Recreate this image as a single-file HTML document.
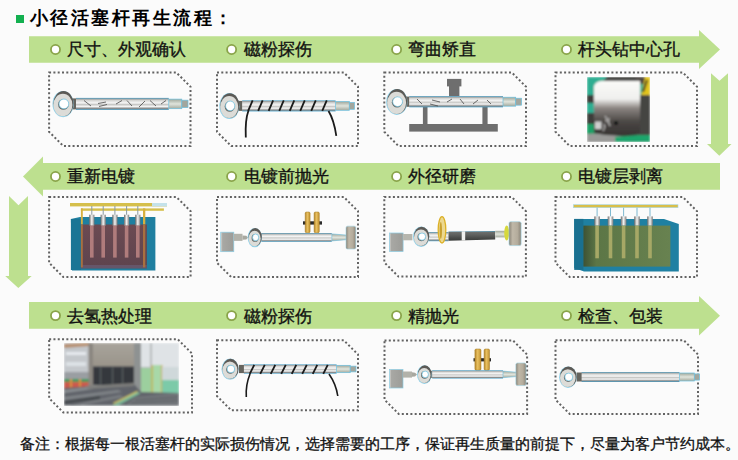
<!DOCTYPE html>
<html><head><meta charset="utf-8">
<style>
*{margin:0;padding:0;box-sizing:border-box}
html,body{width:738px;height:460px;overflow:hidden;background:#fbfbfb;font-family:"Liberation Sans",sans-serif;}
svg{position:absolute;left:0;top:0}
.t{position:absolute;left:29.5px;top:7.2px;font-size:18px;font-weight:bold;letter-spacing:2.55px;color:#000;line-height:22px;white-space:nowrap}
.lb{position:absolute;font-size:17px;line-height:22px;color:#111;white-space:nowrap;-webkit-text-stroke:0.35px #111}
.ft{position:absolute;left:20px;top:434.3px;font-size:15px;line-height:20px;color:#111;white-space:nowrap;-webkit-text-stroke:0.3px #111}
</style></head><body>
<svg width="738" height="460" viewBox="0 0 738 460">
<defs>
<filter id="soft" x="0" y="0" width="1" height="1"><feGaussianBlur stdDeviation="0.8"/></filter>
<linearGradient id="rodg" x1="0" y1="0" x2="0" y2="1">
<stop offset="0" stop-color="#3f9cc6"/><stop offset="0.1" stop-color="#a0a4a4"/>
<stop offset="0.22" stop-color="#d8d8d6"/><stop offset="0.42" stop-color="#f6f6f6"/>
<stop offset="0.55" stop-color="#c8c8c6"/><stop offset="0.72" stop-color="#f4f4f4"/>
<stop offset="0.88" stop-color="#8a8c8c"/><stop offset="1" stop-color="#3f9cc6"/>
</linearGradient>
<linearGradient id="darkg" x1="0" y1="0" x2="0" y2="1">
<stop offset="0" stop-color="#4a9cc0"/><stop offset="0.12" stop-color="#6c6e6c"/><stop offset="0.4" stop-color="#5e605e"/><stop offset="0.7" stop-color="#4a4c4a"/><stop offset="1" stop-color="#3a3c3a"/>
</linearGradient>
<linearGradient id="endg" x1="0" y1="0" x2="0" y2="1">
<stop offset="0" stop-color="#9ea69a"/><stop offset="0.5" stop-color="#e0e4dc"/><stop offset="1" stop-color="#a4aa9e"/>
</linearGradient>
<linearGradient id="capg" x1="0" y1="0" x2="1" y2="0">
<stop offset="0" stop-color="#6a6a6a"/><stop offset="0.5" stop-color="#f4f4f4"/><stop offset="1" stop-color="#7a7a7a"/>
</linearGradient>
<linearGradient id="cylg" x1="0" y1="0" x2="0" y2="1">
<stop offset="0" stop-color="#fafaf8"/><stop offset="0.33" stop-color="#f0f0ee"/><stop offset="0.5" stop-color="#8a8480"/><stop offset="0.75" stop-color="#4a4644"/><stop offset="1" stop-color="#363432"/>
</linearGradient>
<linearGradient id="chlg" x1="0" y1="0" x2="1" y2="0">
<stop offset="0" stop-color="#d8d8d4"/><stop offset="0.15" stop-color="#a8a8a4"/><stop offset="1" stop-color="#9c9c98"/>
</linearGradient>
<linearGradient id="chrg" x1="0" y1="0" x2="1" y2="0">
<stop offset="0" stop-color="#8a8478"/><stop offset="0.3" stop-color="#c0b8a8"/><stop offset="0.7" stop-color="#b4ac9c"/><stop offset="1" stop-color="#8a8478"/>
</linearGradient>
<linearGradient id="whg" x1="0" y1="0" x2="1" y2="0">
<stop offset="0" stop-color="#b8882c"/><stop offset="0.45" stop-color="#e8c060"/><stop offset="1" stop-color="#c09030"/>
</linearGradient>
<linearGradient id="tankb" x1="0" y1="0" x2="0" y2="1">
<stop offset="0" stop-color="#6c4a52"/><stop offset="1" stop-color="#5e444e"/>
</linearGradient>
<linearGradient id="tankg" x1="0" y1="0" x2="1" y2="0">
<stop offset="0" stop-color="#3e5234"/><stop offset="0.15" stop-color="#5c7646"/><stop offset="1" stop-color="#688250"/>
</linearGradient>
<linearGradient id="wallg" x1="0" y1="0" x2="0" y2="1">
<stop offset="0" stop-color="#a8a49c"/><stop offset="1" stop-color="#9a948a"/>
</linearGradient>
</defs>
<rect x="16" y="15" width="8" height="8" fill="#13b050"/>
<polygon points="29,36.2 699,36.2 699,30 720,49.5 699,69 699,62.7 29,62.7" fill="#bde08f"/>
<polygon points="720,163.1 43,163.1 43,156.6 23,176.5 43,196.6 43,189.8 720,189.8" fill="#bde08f"/>
<polygon points="29,302 699,302 699,296 720,315.8 699,335.5 699,328.7 29,328.7" fill="#bde08f"/>
<polygon points="711,73.2 719.5,80.7 728,73.2 728,144.1 731.5,144.1 719.3,155.7 707,144.1 711,144.1" fill="#bde08f"/>
<polygon points="9,196.1 18.5,205.2 28,196.1 28,276 31.7,276 18.3,288 5.2,276 9,276" fill="#bde08f"/>
<path d="M49.1,72.5 H176.3 L190.5,86.7 V146 H63.3 L49.1,131.8 Z" fill="none" stroke="#626262" stroke-width="2" stroke-dasharray="2 2.3"/>
<path d="M217,72.5 H343.8 L358,86.7 V146 H231.2 L217,131.8 Z" fill="none" stroke="#626262" stroke-width="2" stroke-dasharray="2 2.3"/>
<path d="M384.3,72.5 H511.8 L526,86.7 V146 H398.5 L384.3,131.8 Z" fill="none" stroke="#626262" stroke-width="2" stroke-dasharray="2 2.3"/>
<path d="M555.5,72.5 H682.8 L697,86.7 V146 H569.7 L555.5,131.8 Z" fill="none" stroke="#626262" stroke-width="2" stroke-dasharray="2 2.3"/>
<path d="M49.1,197 H176.4 L190.6,211.2 V277 H63.3 L49.1,262.8 Z" fill="none" stroke="#626262" stroke-width="2" stroke-dasharray="2 2.3"/>
<path d="M217,197 H343.8 L358,211.2 V277 H231.2 L217,262.8 Z" fill="none" stroke="#626262" stroke-width="2" stroke-dasharray="2 2.3"/>
<path d="M384.3,197 H511.7 L525.9,211.2 V276.6 H398.5 L384.3,262.40000000000003 Z" fill="none" stroke="#626262" stroke-width="2" stroke-dasharray="2 2.3"/>
<path d="M555.5,197 H682.8 L697,211.2 V277 H569.7 L555.5,262.8 Z" fill="none" stroke="#626262" stroke-width="2" stroke-dasharray="2 2.3"/>
<path d="M49.15,339.3 H177.8 L192,353.5 V412.5 H63.349999999999994 L49.15,398.3 Z" fill="none" stroke="#626262" stroke-width="2" stroke-dasharray="2 2.3"/>
<path d="M217,340.3 H343.8 L358,354.5 V410.3 H231.2 L217,396.1 Z" fill="none" stroke="#626262" stroke-width="2" stroke-dasharray="2 2.3"/>
<path d="M384.5,340.4 H512.9 L527.1,354.59999999999997 V413.9 H398.7 L384.5,399.7 Z" fill="none" stroke="#626262" stroke-width="2" stroke-dasharray="2 2.3"/>
<path d="M555.5,340.3 H683.8 L698,354.5 V413.9 H569.7 L555.5,399.7 Z" fill="none" stroke="#626262" stroke-width="2" stroke-dasharray="2 2.3"/>
<circle cx="55.5" cy="49.5" r="4.55" fill="#ffffff" stroke="#8aa44a" stroke-width="1.8"/>
<circle cx="231.6" cy="49.5" r="4.55" fill="#ffffff" stroke="#8aa44a" stroke-width="1.8"/>
<circle cx="396.6" cy="49.5" r="4.55" fill="#ffffff" stroke="#8aa44a" stroke-width="1.8"/>
<circle cx="566.5" cy="49.5" r="4.55" fill="#ffffff" stroke="#8aa44a" stroke-width="1.8"/>
<circle cx="55.5" cy="176.5" r="4.55" fill="#ffffff" stroke="#8aa44a" stroke-width="1.8"/>
<circle cx="231.6" cy="176.5" r="4.55" fill="#ffffff" stroke="#8aa44a" stroke-width="1.8"/>
<circle cx="396.6" cy="176.5" r="4.55" fill="#ffffff" stroke="#8aa44a" stroke-width="1.8"/>
<circle cx="566.5" cy="176.5" r="4.55" fill="#ffffff" stroke="#8aa44a" stroke-width="1.8"/>
<circle cx="55.5" cy="315.6" r="4.55" fill="#ffffff" stroke="#8aa44a" stroke-width="1.8"/>
<circle cx="231.6" cy="315.6" r="4.55" fill="#ffffff" stroke="#8aa44a" stroke-width="1.8"/>
<circle cx="396.6" cy="315.6" r="4.55" fill="#ffffff" stroke="#8aa44a" stroke-width="1.8"/>
<circle cx="566.5" cy="315.6" r="4.55" fill="#ffffff" stroke="#8aa44a" stroke-width="1.8"/>
<rect x="71" y="98.4" width="5.5" height="11" fill="#65645e"/>
<rect x="76" y="97.9" width="92.80000000000001" height="12" fill="url(#rodg)"/>
<rect x="168.8" y="99.10000000000001" width="13" height="9.600000000000001" fill="url(#endg)" stroke="#6cc0e0" stroke-width="0.7"/>
<rect x="181.8" y="100.18" width="6.2" height="7.4399999999999995" fill="#a2a69e" stroke="#6cc0e0" stroke-width="0.7"/>
<ellipse cx="63.099999999999994" cy="104.10000000000001" rx="10.6" ry="13.1" fill="#8fd0e8"/>
<ellipse cx="63.5" cy="103.60000000000001" rx="10" ry="12.5" fill="#5c5a56"/>
<ellipse cx="62.9" cy="105.0" rx="9.5" ry="11.2" fill="#dcdcd8"/>
<ellipse cx="63.4" cy="104.4" rx="5.300000000000001" ry="5.375" fill="#6a6864"/>
<ellipse cx="63.9" cy="103.9" rx="4.9" ry="4.875" fill="#ffffff" stroke="#6cc4e4" stroke-width="0.7"/>
<line x1="84" y1="100.5" x2="91" y2="106" stroke="#4a4a4a" stroke-width="0.8"/>
<line x1="98" y1="103.5" x2="106" y2="102" stroke="#4a4a4a" stroke-width="0.8"/>
<line x1="99" y1="106.5" x2="107" y2="104.5" stroke="#4a4a4a" stroke-width="0.8"/>
<line x1="116" y1="104" x2="122" y2="100.5" stroke="#4a4a4a" stroke-width="0.8"/>
<line x1="127" y1="100.5" x2="132" y2="106" stroke="#4a4a4a" stroke-width="0.8"/>
<line x1="139" y1="107" x2="145" y2="101" stroke="#4a4a4a" stroke-width="0.8"/>
<line x1="150" y1="100.5" x2="156" y2="106" stroke="#4a4a4a" stroke-width="0.8"/>
<line x1="161" y1="104" x2="166" y2="100.5" stroke="#4a4a4a" stroke-width="0.8"/>
<rect x="237.2" y="100.9" width="5.5" height="10.0" fill="#65645e"/>
<rect x="242.2" y="100.4" width="93.40000000000003" height="11.0" fill="url(#rodg)"/>
<rect x="335.6" y="101.5" width="13.7" height="8.8" fill="url(#endg)" stroke="#6cc0e0" stroke-width="0.7"/>
<rect x="349.3" y="102.49000000000001" width="5.2" height="6.82" fill="#a2a69e" stroke="#6cc0e0" stroke-width="0.7"/>
<ellipse cx="229.4" cy="106.10000000000001" rx="10.1" ry="13.0" fill="#8fd0e8"/>
<ellipse cx="229.79999999999998" cy="105.60000000000001" rx="9.5" ry="12.4" fill="#5c5a56"/>
<ellipse cx="229.2" cy="107.0" rx="9.0" ry="11.1" fill="#dcdcd8"/>
<ellipse cx="229.7" cy="106.4" rx="5.035" ry="5.332" fill="#6a6864"/>
<ellipse cx="230.2" cy="105.9" rx="4.635" ry="4.832" fill="#ffffff" stroke="#6cc4e4" stroke-width="0.7"/>
<line x1="248.15" y1="110.8" x2="252.65" y2="100.4" stroke="#1a1a1a" stroke-width="1.8"/>
<line x1="258.15" y1="110.8" x2="262.65" y2="100.4" stroke="#1a1a1a" stroke-width="1.8"/>
<line x1="268.65" y1="110.8" x2="273.15" y2="100.4" stroke="#1a1a1a" stroke-width="1.8"/>
<line x1="279.25" y1="110.8" x2="283.75" y2="100.4" stroke="#1a1a1a" stroke-width="1.8"/>
<line x1="289.75" y1="110.8" x2="294.25" y2="100.4" stroke="#1a1a1a" stroke-width="1.8"/>
<line x1="300.25" y1="110.8" x2="304.75" y2="100.4" stroke="#1a1a1a" stroke-width="1.8"/>
<line x1="311.25" y1="110.8" x2="315.75" y2="100.4" stroke="#1a1a1a" stroke-width="1.8"/>
<line x1="322.25" y1="110.8" x2="326.75" y2="100.4" stroke="#1a1a1a" stroke-width="1.8"/>
<path d="M248.5,110.5 Q245,120 245.8,137.5" fill="none" stroke="#1a1a1a" stroke-width="1.8"/>
<path d="M328.5,111 Q334,120 336.3,135.8" fill="none" stroke="#1a1a1a" stroke-width="1.8"/>
<rect x="447" y="78.9" width="14.4" height="7.5" fill="#6e6e6e"/>
<rect x="449" y="86" width="10.4" height="10" fill="#6e6e6e"/>
<rect x="422.9" y="107" width="4.6" height="18" fill="#6e6e6e"/>
<rect x="482.4" y="107" width="5.2" height="18" fill="#6e6e6e"/>
<rect x="409.2" y="124" width="88.6" height="7.6" fill="#6e6e6e"/>
<rect x="404.2" y="96.60000000000001" width="5.5" height="10.2" fill="#65645e"/>
<rect x="409.2" y="96.10000000000001" width="93.80000000000001" height="11.2" fill="url(#rodg)"/>
<rect x="503" y="97.22" width="12.7" height="8.959999999999999" fill="url(#endg)" stroke="#6cc0e0" stroke-width="0.7"/>
<rect x="515.7" y="98.22800000000001" width="5.9" height="6.944" fill="#a2a69e" stroke="#6cc0e0" stroke-width="0.7"/>
<ellipse cx="396.8" cy="101.9" rx="10.6" ry="13.0" fill="#8fd0e8"/>
<ellipse cx="397.2" cy="101.4" rx="10" ry="12.4" fill="#5c5a56"/>
<ellipse cx="396.6" cy="102.8" rx="9.5" ry="11.1" fill="#dcdcd8"/>
<ellipse cx="397.1" cy="102.2" rx="5.300000000000001" ry="5.332" fill="#6a6864"/>
<ellipse cx="397.6" cy="101.7" rx="4.9" ry="4.832" fill="#ffffff" stroke="#6cc4e4" stroke-width="0.7"/>
<line x1="417" y1="99" x2="422" y2="104" stroke="#4a4a4a" stroke-width="0.8"/>
<line x1="432" y1="100" x2="440" y2="102" stroke="#4a4a4a" stroke-width="0.8"/>
<line x1="430" y1="104" x2="438" y2="106" stroke="#4a4a4a" stroke-width="0.8"/>
<line x1="447" y1="102" x2="452" y2="99" stroke="#4a4a4a" stroke-width="0.8"/>
<line x1="460" y1="99" x2="464" y2="104" stroke="#4a4a4a" stroke-width="0.8"/>
<line x1="473" y1="104" x2="478" y2="100" stroke="#4a4a4a" stroke-width="0.8"/>
<line x1="487" y1="100" x2="491" y2="104" stroke="#4a4a4a" stroke-width="0.8"/>
<g filter="url(#soft)">
<rect x="587" y="77" width="63" height="64.8" fill="#3e3c3a"/>
<polygon points="587,77 607,77 600,85 594,95 587,95" fill="#2fae92"/>
<rect x="587" y="103" width="7" height="10" fill="#2fae92"/>
<polygon points="587,124 597,124 604,134 587,134" fill="#1aa068"/>
<polygon points="587,134 604,133 625,137 625,141.8 587,141.8" fill="#9a9a98"/>
<polygon points="615,137 650,134 650,141.8 615,141.8" fill="#1aa56c"/>
<rect x="636" y="77" width="8" height="7" fill="#4c4440"/>
<rect x="638" y="84" width="12" height="11" fill="#30b094"/>
<polygon points="645,77 650,77 650,95 641,95" fill="#e2c41e"/>
<polygon points="646,80 648,80 644,92 642,92" fill="#222"/>
<rect x="637" y="95" width="13" height="40" fill="#454443"/>
<path d="M594,86 Q596,81 602,81 H640 V133 Q617,138 594,133 Z" fill="url(#cylg)"/>
<rect x="595" y="121.5" width="6.5" height="7.5" fill="#cfcfcf"/>
<path d="M605,116 q3,2 1,6 M604,124 q2,3 -1,7 M609,118 q-2,4 1,8" stroke="#e8e8e8" stroke-width="0.9" fill="none"/>
<circle cx="616" cy="123" r="2.1" fill="#080808"/>
</g>
<g>
<polygon points="70.9,219 80,217 155.4,217 155.4,270.4 72,270.4" fill="#1f7fa0"/>
<rect x="70.9" y="219" width="10" height="51" fill="#1a7595"/>
<rect x="80.9" y="224.5" width="66" height="43.8" fill="url(#tankb)"/><rect x="80.9" y="265" width="66" height="3.3" fill="#66566a"/>
<rect x="70" y="203" width="97" height="3.4" fill="#d5bf4c"/>
<rect x="152" y="203" width="15" height="3.4" fill="#c4e2ea"/>
<rect x="80.9" y="208.4" width="83" height="2.4" fill="#d5bf4c"/>
<rect x="80.9" y="208.4" width="1.9" height="16" fill="#d6b040"/>
<rect x="143" y="208.4" width="2.3" height="16" fill="#d6b040"/><rect x="80.9" y="224.4" width="1.9" height="43" fill="#a87040"/>
<rect x="143" y="224.4" width="2.3" height="43" fill="#a87040"/>
</g>
<rect x="91.3" y="206" width="1" height="9" fill="#8a9aa0"/><rect x="89.2" y="214.7" width="5.2" height="11" fill="url(#capg)"/><rect x="90.0" y="225.6" width="3.6" height="32" fill="#b07c7c"/>
<rect x="102.7" y="206" width="1" height="9" fill="#8a9aa0"/><rect x="100.60000000000001" y="214.7" width="5.2" height="11" fill="url(#capg)"/><rect x="101.4" y="225.6" width="3.6" height="32" fill="#b07c7c"/>
<rect x="114.4" y="206" width="1" height="9" fill="#8a9aa0"/><rect x="112.30000000000001" y="214.7" width="5.2" height="11" fill="url(#capg)"/><rect x="113.10000000000001" y="225.6" width="3.6" height="32" fill="#b07c7c"/>
<rect x="126.1" y="206" width="1" height="9" fill="#8a9aa0"/><rect x="124.0" y="214.7" width="5.2" height="11" fill="url(#capg)"/><rect x="124.8" y="225.6" width="3.6" height="32" fill="#b07c7c"/>
<rect x="137.3" y="206" width="1" height="9" fill="#8a9aa0"/><rect x="135.20000000000002" y="214.7" width="5.2" height="11" fill="url(#capg)"/><rect x="136.0" y="225.6" width="3.6" height="32" fill="#b07c7c"/>
<g>
<polygon points="574.2,218.9 592,218.9 664,219 678.8,224 678.8,271.6 584,271.6 574.2,268" fill="#1f80a2"/>
<rect x="574.2" y="218.9" width="9.2" height="51" fill="#1a7090"/>
<rect x="583.4" y="225.6" width="87" height="41" fill="url(#tankg)"/>
<rect x="573.4" y="204.7" width="104.6" height="3" fill="#d8bf4a" stroke="#a8d8e8" stroke-width="0.6"/>
</g>
<rect x="596.6" y="207.7" width="1" height="9" fill="#7fb8d0"/><rect x="594.3000000000001" y="216.4" width="5.6" height="9.2" fill="url(#capg)"/><rect x="595.3000000000001" y="225.6" width="3.6" height="32.7" fill="#a6a866"/>
<rect x="610.0" y="207.7" width="1" height="9" fill="#7fb8d0"/><rect x="607.7" y="216.4" width="5.6" height="9.2" fill="url(#capg)"/><rect x="608.7" y="225.6" width="3.6" height="32.7" fill="#a6a866"/>
<rect x="623.1" y="207.7" width="1" height="9" fill="#7fb8d0"/><rect x="620.8000000000001" y="216.4" width="5.6" height="9.2" fill="url(#capg)"/><rect x="621.8000000000001" y="225.6" width="3.6" height="32.7" fill="#a6a866"/>
<rect x="636.5" y="207.7" width="1" height="9" fill="#7fb8d0"/><rect x="634.2" y="216.4" width="5.6" height="9.2" fill="url(#capg)"/><rect x="635.2" y="225.6" width="3.6" height="32.7" fill="#a6a866"/>
<rect x="649.5" y="207.7" width="1" height="9" fill="#7fb8d0"/><rect x="647.2" y="216.4" width="5.6" height="9.2" fill="url(#capg)"/><rect x="648.2" y="225.6" width="3.6" height="32.7" fill="#a6a866"/>
<rect x="220.7" y="232.2" width="13.1" height="19.5" fill="url(#chlg)" stroke="#8ccde4" stroke-width="0.7"/>
<rect x="233.8" y="233.8" width="8.7" height="7.1" fill="#b2b2aa"/><polygon points="242.5,235.4 246.3,235.8 248,237.6 246.3,239.6 242.5,239.8" fill="#a8a8a0"/>
<rect x="303" y="221.3" width="19" height="3.3" fill="#2a2a2a"/>
<rect x="305.2" y="212" width="4.9" height="20.7" rx="1.3" fill="url(#whg)" stroke="#a07820" stroke-width="0.5"/><rect x="314.1" y="212" width="5.2" height="20.7" rx="1.3" fill="url(#whg)" stroke="#a07820" stroke-width="0.5"/>
<rect x="256.5" y="233.5" width="5.5" height="7.800000000000001" fill="#65645e"/>
<rect x="261.5" y="233.0" width="70.30000000000001" height="8.8" fill="url(#rodg)"/>
<polygon points="331.8,233.88 346.3,235.112 346.3,239.68800000000002 331.8,240.92000000000002" fill="url(#endg)" stroke="#6cc0e0" stroke-width="0.6"/>
<ellipse cx="254.8" cy="237.6" rx="7.199999999999999" ry="9.6" fill="#8fd0e8"/>
<ellipse cx="255.2" cy="237.1" rx="6.6" ry="9" fill="#5c5a56"/>
<ellipse cx="254.6" cy="238.5" rx="6.1" ry="7.7" fill="#dcdcd8"/>
<ellipse cx="255.1" cy="237.9" rx="3.4979999999999998" ry="3.87" fill="#6a6864"/>
<ellipse cx="255.6" cy="237.4" rx="3.098" ry="3.37" fill="#ffffff" stroke="#6cc4e4" stroke-width="0.7"/>
<rect x="346" y="226.2" width="9.8" height="22.8" rx="1.6" fill="url(#chrg)" stroke="#9cd0e0" stroke-width="0.6"/>
<rect x="389.4" y="233" width="13.7" height="18.5" fill="url(#chlg)" stroke="#8ccde4" stroke-width="0.7"/>
<rect x="403.1" y="234" width="9.3" height="6.3" fill="#b6b6ae"/>
<rect x="424" y="232.5" width="5.5" height="8.2" fill="#65645e"/>
<rect x="429" y="232.0" width="19.5" height="9.2" fill="url(#rodg)"/>
<ellipse cx="421.2" cy="236.79999999999998" rx="8.2" ry="10.2" fill="#8fd0e8"/>
<ellipse cx="421.59999999999997" cy="236.29999999999998" rx="7.6" ry="9.6" fill="#5c5a56"/>
<ellipse cx="421.0" cy="237.7" rx="7.1" ry="8.299999999999999" fill="#dcdcd8"/>
<ellipse cx="421.5" cy="237.1" rx="4.028" ry="4.128" fill="#6a6864"/>
<ellipse cx="422.0" cy="236.6" rx="3.6279999999999997" ry="3.628" fill="#ffffff" stroke="#6cc4e4" stroke-width="0.7"/>
<polygon points="448.5,231.5 495.2,231 495.2,239.5 448.5,240.8" fill="url(#darkg)"/><rect x="461.7" y="231.3" width="3.5" height="9.2" fill="#f0f0ee"/>
<rect x="495.2" y="230.8" width="9.7" height="6.6" fill="url(#endg)"/>
<ellipse cx="442" cy="229.8" rx="3.8" ry="13.2" fill="#ecd890" stroke="#dcb026" stroke-width="1.3"/><ellipse cx="440.8" cy="230.5" rx="1.2" ry="8.5" fill="#c8a030"/>
<ellipse cx="506.7" cy="233" rx="2.5" ry="7.5" fill="#d6d83c"/>
<rect x="509" y="221.7" width="12.1" height="23.9" rx="1.6" fill="url(#chrg)" stroke="#9cd0e0" stroke-width="0.6"/>
<g filter="url(#soft)">
<rect x="64.1" y="343" width="114.6" height="62.5" fill="#b4b8b8"/>
<rect x="64.1" y="343" width="25" height="36" fill="#c4c8cc"/>
<polygon points="64.1,344 89,343 89,346 64.1,348" fill="#b89070"/>
<rect x="66" y="352" width="20" height="3" fill="#e6eaee"/>
<rect x="66" y="362" width="20" height="4" fill="#dde2e6"/>
<rect x="64.1" y="372" width="25" height="7" fill="#9a9ea2"/>
<rect x="64.1" y="379" width="25" height="11" fill="#cc5a4e"/>
<rect x="64.1" y="379" width="25" height="3" fill="#3e9a5a"/>
<rect x="70" y="379" width="2" height="11" fill="#d89040"/>
<rect x="79" y="379" width="2" height="11" fill="#d89040"/>
<rect x="88.5" y="343" width="4.5" height="45" fill="#8a8680"/>
<rect x="93" y="343" width="41" height="23.4" fill="url(#wallg)"/>
<rect x="93" y="366.4" width="41" height="18.6" fill="#34383c"/>
<rect x="100" y="367" width="1.2" height="18" fill="#5a5e62"/>
<rect x="112" y="367" width="1.2" height="18" fill="#5a5e62"/>
<rect x="122" y="367" width="1.2" height="18" fill="#5a5e62"/>
<rect x="134" y="343" width="7" height="52" fill="#8e9292"/>
<rect x="141" y="343" width="38" height="24" fill="#dfe3e6"/>
<rect x="150" y="343" width="2" height="24" fill="#b8bcbc"/>
<rect x="141" y="368" width="11" height="27" fill="#9ccf9e"/>
<rect x="152" y="365" width="10" height="30" fill="#a8d8a8"/>
<rect x="151.5" y="365" width="1.3" height="30" fill="#c8ae40"/>
<rect x="161" y="365" width="1.3" height="30" fill="#c8ae40"/>
<rect x="162" y="367" width="17" height="13" fill="#cfd8da"/>
<rect x="162" y="380" width="17" height="15" fill="#7ccaa8"/>
<polygon points="64.1,388 93,386 134,384 141,392 178.7,393 178.7,405.5 64.1,405.5" fill="#60646a"/>
<polygon points="64.1,390 90,387 93,389 64.1,393" fill="#8a8e92"/>
<polygon points="85,386 134,383 134,386 88,389" fill="#7e7e7c"/>
<polygon points="64.1,397 118,390 122,392 64.1,400" fill="#808488"/>
<polygon points="70,405.5 120,395 124,397 80,405.5" fill="#7a7e82"/>
<polygon points="64.1,401 100,396 100,399 64.1,404" fill="#45494d"/>
<polygon points="112,405.5 136,392 141,393 118,405.5" fill="#7ab898"/>
<polygon points="113,403 137,391 138,392 114,404" fill="#d8c860"/>
<polygon points="136,397 178.7,393 178.7,405.5 125,405.5" fill="#72767a"/>
<line x1="135" y1="400" x2="178" y2="397" stroke="#505458" stroke-width="0.8"/>
<line x1="131" y1="403" x2="178" y2="400.5" stroke="#505458" stroke-width="0.8"/>
</g>
<rect x="238.9" y="364.9" width="5.5" height="8.2" fill="#65645e"/>
<rect x="243.9" y="364.4" width="92.70000000000002" height="9.2" fill="url(#rodg)"/>
<rect x="336.6" y="365.32" width="13.6" height="7.359999999999999" fill="url(#endg)" stroke="#6cc0e0" stroke-width="0.7"/>
<rect x="350.20000000000005" y="366.148" width="5.8" height="5.704" fill="#a2a69e" stroke="#6cc0e0" stroke-width="0.7"/>
<ellipse cx="230.10000000000002" cy="369.2" rx="8.6" ry="10.6" fill="#8fd0e8"/>
<ellipse cx="230.5" cy="368.7" rx="8" ry="10" fill="#5c5a56"/>
<ellipse cx="229.9" cy="370.1" rx="7.5" ry="8.7" fill="#dcdcd8"/>
<ellipse cx="230.4" cy="369.5" rx="4.24" ry="4.3" fill="#6a6864"/>
<ellipse cx="230.9" cy="369.0" rx="3.8400000000000003" ry="3.8" fill="#ffffff" stroke="#6cc4e4" stroke-width="0.7"/>
<line x1="249.75" y1="373.8" x2="254.25" y2="364.8" stroke="#1a1a1a" stroke-width="1.8"/>
<line x1="260.25" y1="373.8" x2="264.75" y2="364.8" stroke="#1a1a1a" stroke-width="1.8"/>
<line x1="270.75" y1="373.8" x2="275.25" y2="364.8" stroke="#1a1a1a" stroke-width="1.8"/>
<line x1="281.25" y1="373.8" x2="285.75" y2="364.8" stroke="#1a1a1a" stroke-width="1.8"/>
<line x1="291.75" y1="373.8" x2="296.25" y2="364.8" stroke="#1a1a1a" stroke-width="1.8"/>
<line x1="302.25" y1="373.8" x2="306.75" y2="364.8" stroke="#1a1a1a" stroke-width="1.8"/>
<line x1="312.75" y1="373.8" x2="317.25" y2="364.8" stroke="#1a1a1a" stroke-width="1.8"/>
<line x1="323.25" y1="373.8" x2="327.75" y2="364.8" stroke="#1a1a1a" stroke-width="1.8"/>
<path d="M250,374 Q245.5,385 246.3,397" fill="none" stroke="#1a1a1a" stroke-width="1.6"/>
<path d="M329,374 Q336,384 337.8,396" fill="none" stroke="#1a1a1a" stroke-width="1.6"/>
<rect x="389.5" y="369.5" width="13.5" height="18.5" fill="url(#chlg)" stroke="#8ccde4" stroke-width="0.7"/>
<rect x="403" y="371.5" width="9" height="6.1" fill="#b2b2aa"/><polygon points="412,372.3 415,372.8 417,374.6 415,376.4 412,376.8" fill="#a8a8a0"/>
<rect x="473.5" y="358.2" width="17.5" height="3.2" fill="#2a2a2a"/>
<rect x="474.9" y="349" width="6.1" height="21.2" rx="1.3" fill="url(#whg)" stroke="#a07820" stroke-width="0.5"/><rect x="484.1" y="349" width="5.4" height="21.2" rx="1.3" fill="url(#whg)" stroke="#a07820" stroke-width="0.5"/>
<rect x="427.2" y="370.79999999999995" width="5.5" height="7.199999999999999" fill="#65645e"/>
<rect x="432.2" y="370.29999999999995" width="70.80000000000001" height="8.2" fill="url(#rodg)"/>
<polygon points="503,371.12 516.5,372.268 516.5,376.532 503,377.67999999999995" fill="url(#endg)" stroke="#6cc0e0" stroke-width="0.6"/>
<ellipse cx="424.40000000000003" cy="374.59999999999997" rx="7.3999999999999995" ry="9.4" fill="#8fd0e8"/>
<ellipse cx="424.8" cy="374.09999999999997" rx="6.8" ry="8.8" fill="#5c5a56"/>
<ellipse cx="424.20000000000005" cy="375.5" rx="6.3" ry="7.500000000000001" fill="#dcdcd8"/>
<ellipse cx="424.70000000000005" cy="374.9" rx="3.604" ry="3.7840000000000003" fill="#6a6864"/>
<ellipse cx="425.20000000000005" cy="374.4" rx="3.204" ry="3.2840000000000003" fill="#ffffff" stroke="#6cc4e4" stroke-width="0.7"/>
<rect x="515.9" y="363" width="10.1" height="22.6" rx="1.6" fill="url(#chrg)" stroke="#9cd0e0" stroke-width="0.6"/>
<rect x="576.6" y="372.5" width="5.5" height="9" fill="#65645e"/>
<rect x="581.6" y="372" width="97.89999999999998" height="10" fill="url(#rodg)"/>
<rect x="679.5" y="373.0" width="14.8" height="8.0" fill="url(#endg)" stroke="#6cc0e0" stroke-width="0.7"/>
<rect x="694.3" y="373.9" width="5.3" height="6.2" fill="#a2a69e" stroke="#6cc0e0" stroke-width="0.7"/>
<ellipse cx="568.0" cy="377.2" rx="8.9" ry="10.799999999999999" fill="#8fd0e8"/>
<ellipse cx="568.4000000000001" cy="376.7" rx="8.3" ry="10.2" fill="#5c5a56"/>
<ellipse cx="567.8000000000001" cy="378.1" rx="7.800000000000001" ry="8.899999999999999" fill="#dcdcd8"/>
<ellipse cx="568.3000000000001" cy="377.5" rx="4.399000000000001" ry="4.385999999999999" fill="#6a6864"/>
<ellipse cx="568.8000000000001" cy="377.0" rx="3.999000000000001" ry="3.8859999999999992" fill="#ffffff" stroke="#6cc4e4" stroke-width="0.7"/>
</svg>
<div class="t">小径活塞杆再生流程：</div>
<div class="lb" style="left:67.3px;top:39.3px">尺寸、外观确认</div>
<div class="lb" style="left:243.6px;top:39.3px">磁粉探伤</div>
<div class="lb" style="left:408px;top:39.3px">弯曲矫直</div>
<div class="lb" style="left:578px;top:39.3px">杆头钻中心孔</div>
<div class="lb" style="left:67.3px;top:166.3px">重新电镀</div>
<div class="lb" style="left:243.6px;top:166.3px">电镀前抛光</div>
<div class="lb" style="left:408px;top:166.3px">外径研磨</div>
<div class="lb" style="left:578px;top:166.3px">电镀层剥离</div>
<div class="lb" style="left:67.3px;top:306.0px">去氢热处理</div>
<div class="lb" style="left:243.6px;top:306.0px">磁粉探伤</div>
<div class="lb" style="left:408px;top:306.0px">精抛光</div>
<div class="lb" style="left:578px;top:306.0px">检查、包装</div>
<div class="ft">备注：根据每一根活塞杆的实际损伤情况，选择需要的工序，保证再生质量的前提下，尽量为客户节约成本。</div>
</body></html>
